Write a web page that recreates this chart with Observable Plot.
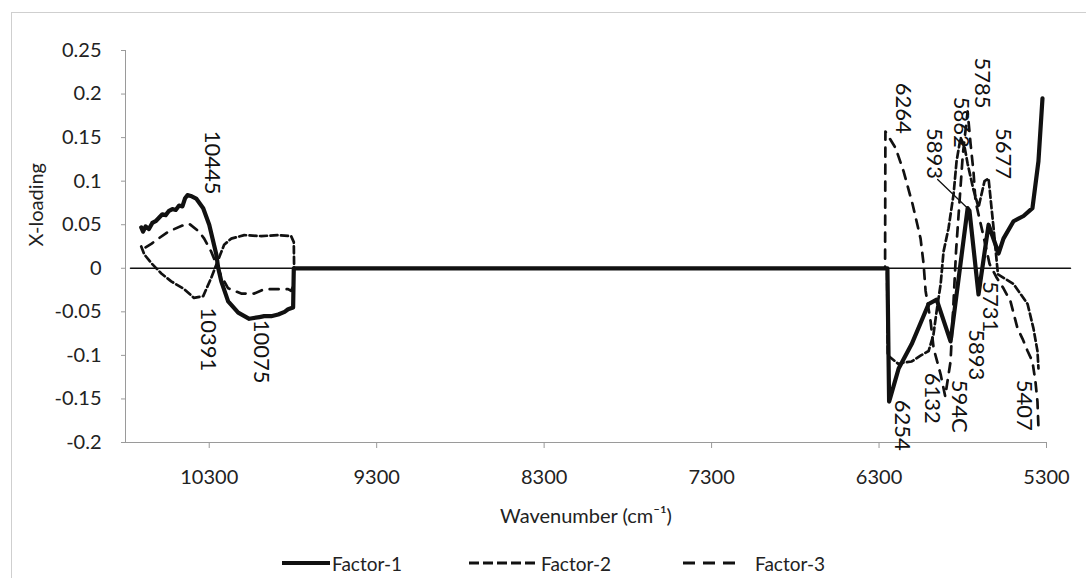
<!DOCTYPE html>
<html>
<head>
<meta charset="utf-8">
<script src="https://cdn.jsdelivr.net/npm/d3@7"></script>
<script src="https://cdn.jsdelivr.net/npm/@observablehq/plot@0.6"></script>
<style>
  html, body { margin: 0; padding: 0; background: white; }
  #wrap { position: relative; width: 1086px; height: 578px; overflow: hidden; font-family: Lato, "Open Sans", sans-serif; }
  #border { position: absolute; left: 11px; top: 12px; width: 1090px; height: 600px; border: 1px solid #cfcfcf; box-sizing: border-box; }
  #chart { position: absolute; left: 0; top: 0; }
  .lg { position: absolute; top: 549px; height: 28px; display: flex; align-items: center; font-size: 19px; color: #222; }
  .lg svg { display: block; }
</style>
</head>
<body>
<div id="wrap">
  <div id="border"></div>
  <div id="chart"></div>
</div>
<script>
// ---------- data ----------
const xTicks = [10300, 9300, 8300, 7300, 6300, 5300];
const yTicks = [-0.2, -0.15, -0.1, -0.05, 0, 0.05, 0.1, 0.15, 0.2, 0.25];
const xDomain = [10800, 5300];
const yDomain = [-0.2, 0.25];

const seriesNames = ["Factor-1", "Factor-2", "Factor-3"];

// [wavenumber, loading]
const factor1 = [
  [10706,0.047],[10695,0.042],[10680,0.048],[10660,0.045],[10640,0.052],[10620,0.054],
  [10600,0.058],[10580,0.062],[10560,0.061],[10540,0.066],[10520,0.068],[10500,0.067],
  [10480,0.072],[10460,0.071],[10445,0.080],[10430,0.084],[10410,0.083],[10378,0.080],
  [10336,0.069],[10300,0.050],[10258,0.016],[10246,0],[10228,-0.015],[10187,-0.038],
  [10127,-0.051],[10061,-0.058],[10000,-0.056],[9972,-0.055],[9930,-0.055],[9888,-0.053],
  [9850,-0.050],[9829,-0.047],[9799,-0.045],[9795,0],
  [6250,0],[6240,-0.153],[6232,-0.148],[6183,-0.115],[6105,-0.087],[6004,-0.041],
  [5956,-0.036],[5873,-0.084],[5771,0.069],[5760,0.066],[5706,-0.030],[5646,0.050],
  [5586,0.017],[5557,0.034],[5497,0.054],[5437,0.060],[5384,0.069],[5348,0.123],[5324,0.195]
];

const factor2 = [
  [10706,0.025],[10688,0.016],[10646,0.006],[10586,-0.006],[10527,-0.015],[10449,-0.024],
  [10391,-0.034],[10336,-0.032],[10288,-0.011],[10246,0.010],[10211,0.027],[10169,0.034],
  [10091,0.038],[9990,0.037],[9888,0.038],[9811,0.037],[9795,0.030],[9793,0],
  [6252,0],[6248,-0.100],[6183,-0.110],[6150,-0.108],[6105,-0.107],[6050,-0.100],
  [6004,-0.095],[5975,-0.076],[5956,-0.049],[5932,-0.018],[5915,0.019],[5885,0.046],
  [5855,0.085],[5837,0.123],[5813,0.150],[5790,0.140],[5771,0.120],[5736,0.090],
  [5706,0.070],[5670,0.100],[5646,0.103],[5616,0.046],[5590,-0.007],[5497,-0.018],
  [5413,-0.041],[5378,-0.069],[5354,-0.095],[5348,-0.115]
];

const factor3 = [
  [10680,0.024],[10646,0.028],[10604,0.034],[10545,0.042],[10449,0.050],[10419,0.051],
  [10360,0.042],[10330,0.034],[10288,0.019],[10258,0.005],[10228,-0.009],[10187,-0.023],
  [10109,-0.029],[10031,-0.029],[9972,-0.024],[9888,-0.024],[9829,-0.024],[9811,-0.026],
  [9797,-0.020],[9795,0],
  [6264,0],[6262,0.157],[6201,0.138],[6153,0.111],[6099,0.073],[6052,0.034],[6034,0.005],
  [6022,-0.026],[5992,-0.061],[5974,-0.092],[5932,-0.122],[5905,-0.147],[5873,-0.107],
  [5840,0.020],[5800,0.130],[5771,0.180],[5753,0.142],[5736,0.111],[5724,0.077],
  [5680,0.040],[5640,0.005],[5600,-0.010],[5557,-0.023],[5515,-0.038],[5473,-0.069],
  [5443,-0.081],[5413,-0.095],[5384,-0.107],[5366,-0.130],[5354,-0.153],[5348,-0.183]
];

const zeroLine = [[10770,0],[5157,0]];

// peak annotations: [text, wavenumber, loading]
const peakLabels = [
  ["10445",10282,0.158],["10391",10306,-0.045],["10075",9990,-0.059],
  ["6264",6159,0.213],["5893",5974,0.161],["5862",5813,0.197],["5785",5682,0.242],
  ["5677",5557,0.161],["5731",5640,-0.015],["5893",5718,-0.070],["594C",5825,-0.128],
  ["6132",5986,-0.120],["6254",6165,-0.151],["5407",5437,-0.128]
];
const leader = [[5950,0.102],[5771,0.069]];

// ---------- chart ----------
const fmt = d => String(+d.toFixed(2));
const toObj = a => a.map(([w, v]) => ({w, v}));

const chart = Plot.plot({
  width: 1086,
  height: 540,
  marginTop: 50,
  marginBottom: 98,
  marginLeft: 125,
  marginRight: 40,
  x: {domain: xDomain},
  y: {domain: yDomain},
  style: {fontFamily: "Lato, 'Open Sans', sans-serif", fontSize: "20px", color: "#222", background: "transparent", overflow: "visible"},
  marks: [
    Plot.ruleX([xDomain[0]], {stroke: "#9a9a9a", strokeWidth: 1}),
    Plot.ruleY([yDomain[0]], {stroke: "#9a9a9a", strokeWidth: 1}),
    Plot.axisX({ticks: xTicks, tickFormat: d => String(d), tickSize: 6, tickPadding: 21, stroke: "#9a9a9a", fill: "#222", label: null}),
    Plot.axisY({ticks: yTicks, tickFormat: fmt, tickSize: 4, tickPadding: 20, stroke: "#9a9a9a", fill: "#222", label: null}),
    Plot.line(toObj(zeroLine), {x: "w", y: "v", stroke: "#111", strokeWidth: 1.6}),
    Plot.line(toObj(factor2), {x: "w", y: "v", stroke: "#111", strokeWidth: 2.7, strokeDasharray: "7,3.5"}),
    Plot.line(toObj(factor3), {x: "w", y: "v", stroke: "#111", strokeWidth: 2.7, strokeDasharray: "9,8"}),
    Plot.line(toObj(factor1), {x: "w", y: "v", stroke: "#111", strokeWidth: 4.2, strokeLinejoin: "round"}),
    Plot.line(toObj(leader), {x: "w", y: "v", stroke: "#111", strokeWidth: 1.3}),
    Plot.text(peakLabels, {x: d => d[1], y: d => d[2], text: d => d[0], rotate: 90, textAnchor: "start", lineAnchor: "middle", fontSize: 22, fill: "#111"}),
    Plot.text(["X-loading"], {frameAnchor: "left", dx: -89, rotate: -90, fontSize: 20, fill: "#222"}),
    Plot.text(["Wavenumber (cm⁻¹)"], {frameAnchor: "bottom", dy: 80, fontSize: 20, fill: "#222"})
  ]
});
document.getElementById("chart").appendChild(chart);

// ---------- legend ----------
const wrap = document.getElementById("wrap");
const legendItems = [
  {name: seriesNames[0], left: 282, w: 48, dash: null, sw: 4.2, gap: 2},
  {name: seriesNames[1], left: 469, w: 70, dash: "10,4", sw: 2.8, gap: 2},
  {name: seriesNames[2], left: 683, w: 52, dash: "12,8", sw: 2.8, gap: 20}
];
legendItems.forEach(it => {
  const div = document.createElement("div");
  div.className = "lg";
  div.style.left = it.left + "px";
  div.innerHTML = `<svg width="${it.w}" height="10"><line x1="0" y1="5" x2="${it.w}" y2="5" stroke="#111" stroke-width="${it.sw}" ${it.dash ? `stroke-dasharray="${it.dash}"` : ""}/></svg><span style="margin-left:${it.gap}px">${it.name}</span>`;
  wrap.appendChild(div);
});
</script>
</body>
</html>
